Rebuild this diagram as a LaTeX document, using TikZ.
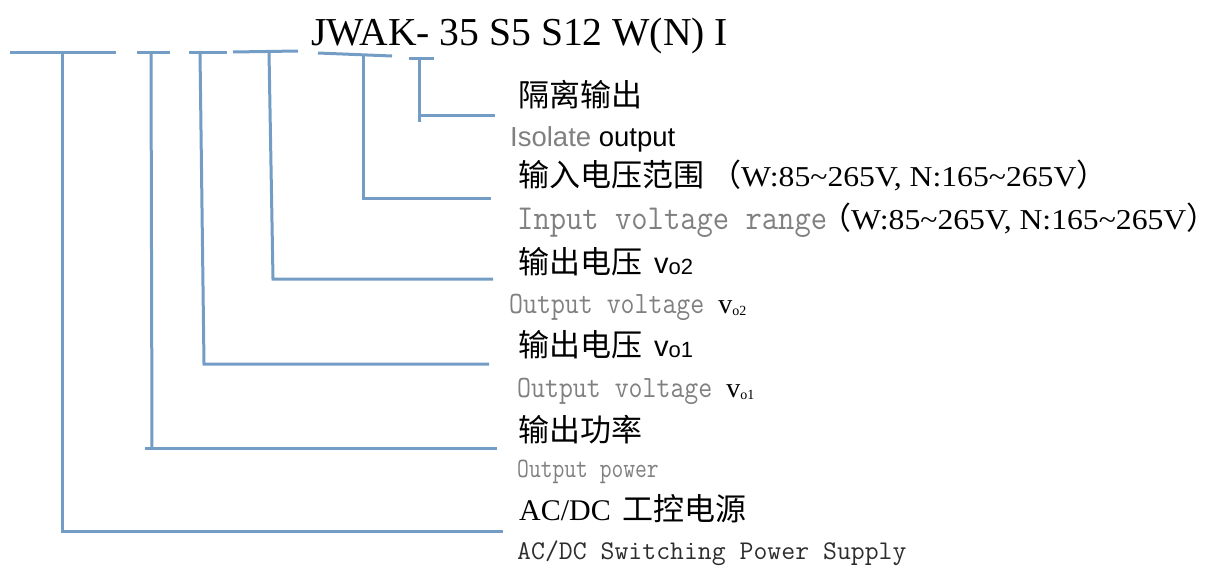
\documentclass[tikz,border=0pt]{standalone}
\usepackage{fontspec}
\usepackage{graphicx}
\setmainfont{Liberation Serif}
\newfontfamily\cjk{Noto Sans CJK SC}
\newfontfamily\arialf{Liberation Sans}
\newfontfamily\timesw[FakeStretch=1.1]{Liberation Serif}
\definecolor{linkblue}{RGB}{115,157,197}
\definecolor{labgray}{RGB}{128,128,128}
\definecolor{enddark}{RGB}{45,45,45}
\newcommand{\fs}[1]{\fontsize{#1}{#1}\selectfont}
\newcommand{\mtext}[3]{{\ttfamily\fs{#1}\scalebox{#2}[1]{#3}}}
\begin{document}
\begin{tikzpicture}[x=1pt,y=-1pt,
  lab/.style={inner sep=0pt, anchor=base west},
  conn/.style={draw=linkblue, line width=3pt}]
\useasboundingbox (0,0) rectangle (1215,568);

% ---- connector coordinates ----
% group 1: AC/DC
\coordinate (a1) at (10,52);  \coordinate (a2) at (116,52);
\coordinate (a3) at (62,52);  \coordinate (a4) at (62,531); \coordinate (a5) at (503,531);
% group 2: output power
\coordinate (b1) at (137,52); \coordinate (b2) at (170,52);
\coordinate (b3) at (151,52); \coordinate (b4) at (152,448);
\coordinate (b5) at (145,448); \coordinate (b6) at (497,448);
% group 3: vo1
\coordinate (c1) at (189,52); \coordinate (c2) at (227,52);
\coordinate (c3) at (200,52); \coordinate (c4) at (204,364); \coordinate (c5) at (489,364);
% group 4: vo2
\coordinate (d1) at (233,52); \coordinate (d2) at (298,51);
\coordinate (d3) at (269,52); \coordinate (d4) at (273,279); \coordinate (d5) at (493,279);
% group 5: input range
\coordinate (e1) at (318,53); \coordinate (e2) at (392,56);
\coordinate (e3) at (363,55); \coordinate (e4) at (363,198); \coordinate (e5) at (491,198);
% group 6: isolate
\coordinate (f1) at (409,58); \coordinate (f2) at (434,58);
\coordinate (f3) at (419,58); \coordinate (f4) at (419,122);
\coordinate (f5) at (419,115); \coordinate (f6) at (495,115);

\draw[conn] (a1) -- (a2);
\draw[conn] (a3) -- (a4) -- (a5);
\draw[conn] (b1) -- (b2);
\draw[conn] (b3) -- (b4);
\draw[conn] (b5) -- (b6);
\draw[conn] (c1) -- (c2);
\draw[conn] (c3) -- (c4) -- (c5);
\draw[conn] (d1) -- (d2);
\draw[conn] (d3) -- (d4) -- (d5);
\draw[conn] (e1) -- (e2);
\draw[conn] (e3) -- (e4) -- (e5);
\draw[conn] (f1) -- (f2);
\draw[conn] (f3) -- (f4);
\draw[conn] (f5) -- (f6);

% ---- texts ----
\node[lab] (title) at (311,45) {\fs{39.6}JWAK- 35 S5 S12 W(N) I};

\node[lab] (iso) at (518,106) {\cjk\fs{31}隔离输出};
\node[lab] (isoen) at (510,146) {\arialf\fs{27.5}\textcolor{labgray}{Isolate} output};

\node[lab] (vin) at (518,186) {\cjk\fs{31}输入电压范围\hspace{6pt}（{\timesw\fs{28.8}W:85\textasciitilde265V, N:165\textasciitilde265V}\makebox[14pt][l]{）}};
\node[lab] (vinen) at (517,229) {\mtext{35}{0.905}{\color{labgray}Input voltage range}\hspace{-7pt}{\cjk\fs{31}（}{\timesw\fs{28.8}W:85\textasciitilde265V, N:165\textasciitilde265V}{\cjk\fs{31}\makebox[12pt][l]{）}}};

\node[lab] (vo2) at (518,273) {\cjk\fs{31}输出电压\hspace{12pt}{\arialf\fs{29}v\raisebox{-1pt}{\fs{22}o2}}};
\node[lab] (vo2en) at (509,313) {\mtext{31}{0.873}{\color{labgray}Output voltage }{\fs{28}v\raisebox{-2pt}{\fs{14}o2}}};

\node[lab] (vo1) at (518,356) {\cjk\fs{31}输出电压\hspace{12pt}{\arialf\fs{29}v\raisebox{-1pt}{\fs{22}o1}}};
\node[lab] (vo1en) at (517,397) {\mtext{31}{0.873}{\color{labgray}Output voltage }{\fs{28}v\raisebox{-2pt}{\fs{14}o1}}};

\node[lab] (pw) at (518,441) {\cjk\fs{31}输出功率};
\node[lab] (pwen) at (517,477) {\mtext{28}{0.818}{\color{labgray}Output power}};

\node[lab] (ac) at (519,520) {\fs{30}AC/DC\hspace{12pt}{\cjk\fs{31}工控电源}};
\node[lab] (acen) at (517,559) {\mtext{27}{1.0}{\color{enddark}AC/DC Switching Power Supply}};
\end{tikzpicture}
\end{document}
